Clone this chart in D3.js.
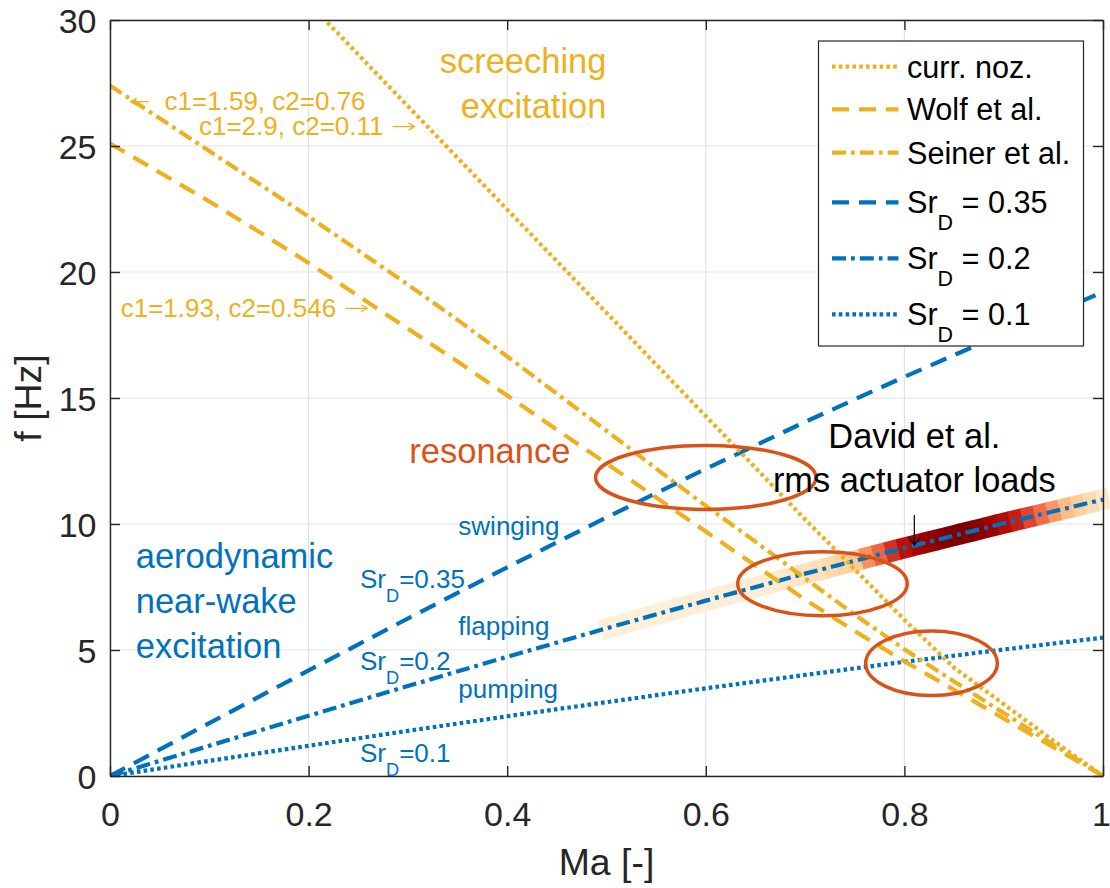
<!DOCTYPE html>
<html><head><meta charset="utf-8">
<script src="https://cdn.jsdelivr.net/npm/d3@7"></script>
<style>
body{margin:0;background:#fff;}
svg{display:block;font-family:"Liberation Sans",Arial,Helvetica,sans-serif;}
</style></head><body>
<svg id="chart" width="1110" height="888"></svg>
<script>
// ---------------- data ----------------
const maGrid = [0,0.05,0.1,0.15,0.2,0.25,0.3,0.35,0.4,0.45,0.5,0.55,0.6,0.65,0.7,0.75,0.8,0.85,0.9,0.95,1];
const seinerF = [27.4,26.1,24.8,23.5,22.2,20.85,19.5,18.1,16.65,15.17,13.7,12.2,10.72,9.3,7.84,6.4,5.03,3.75,2.5,1.25,0];
const wolfF   = [25.1,23.95,22.8,21.6,20.36,19.05,17.75,16.45,15.1,13.74,12.4,11.05,9.7,8.35,7.0,5.75,4.55,3.42,2.28,1.14,0];
const currNozMa = [0.2,0.25,0.3,0.35,0.4,0.45,0.5,0.55,0.6,0.65,0.7,0.75,0.8,0.85,0.9,0.95,1];
const currNozF  = [30.68,28.63,26.58,24.53,22.48,20.43,18.38,16.33,14.28,12.23,10.18,8.2,6.2,4.3,2.85,1.4,0];
const srMa   = [0,0.1,0.2,0.3,0.4,0.5,0.6,0.7,0.8,0.9,1];
const sr035F = [0,2.10,4.19,6.25,8.28,10.26,12.19,14.05,15.84,17.56,19.2];
const sr02F  = [0,1.20,2.39,3.57,4.73,5.86,6.96,8.03,9.05,10.03,10.97];
const sr01F  = [0,0.60,1.20,1.79,2.37,2.93,3.48,4.01,4.53,5.02,5.49];
const bandMa = [0.5,0.5125,0.525,0.5375,0.55,0.5625,0.575,0.5875,0.6,0.6125,0.625,0.6375,0.65,0.6625,0.675,0.6875,0.7,0.7125,0.725,0.7375,0.75,0.7625,0.775,0.7875,0.8,0.8125,0.825,0.8375,0.85,0.8625,0.875,0.8875,0.9,0.9125,0.925,0.9375,0.95,0.9625,0.975,0.9875,1.0];
const bandLoad = [0.06,0.06,0.06,0.06,0.065,0.065,0.07,0.07,0.07,0.075,0.075,0.08,0.085,0.09,0.1,0.12,0.14,0.17,0.21,0.25,0.3,0.5,0.62,0.75,0.84,0.9,0.94,0.98,1.0,1.0,0.97,0.92,0.86,0.8,0.7,0.6,0.48,0.36,0.28,0.2,0.12];
const ellipseMa  = [0.6,0.7175,0.8273];
const ellipseF   = [11.85,7.63,4.47];
const ellipseRMa = [0.111,0.0854,0.0663];
const ellipseRF  = [1.27,1.27,1.28];
const xTicks = [0,0.2,0.4,0.6,0.8,1];
const xTickLabels = ["0","0.2","0.4","0.6","0.8","1"];
const yTicks = [0,5,10,15,20,25,30];
const yTickLabels = ["0","5","10","15","20","25","30"];

// ---------------- setup ----------------
const YEL = "#EDB120", BLUE = "#0072BD", RED = "#D95319", AX = "#262626";
const svg = d3.select("#chart");
const L = 110, R = 1103, T = 20, B = 776;
const x = d3.scaleLinear([0,1],[L,R]);
const y = d3.scaleLinear([0,30],[B,T]);
const DOT = "3.6,3.2", DASH = "17,10", DASHDOT = "14,5,3.8,5";
const LW = 4.2;

const series = [
  {name:"curr. noz.", ma:currNozMa, f:currNozF, color:YEL, dash:DOT},
  {name:"Wolf et al.", ma:maGrid, f:wolfF, color:YEL, dash:DASH},
  {name:"Seiner et al.", ma:maGrid, f:seinerF, color:YEL, dash:DASHDOT},
  {name:"Sr", sub:"D", tail:" = 0.35", ma:srMa, f:sr035F, color:BLUE, dash:DASH},
  {name:"Sr", sub:"D", tail:" = 0.2", ma:srMa, f:sr02F, color:BLUE, dash:DASHDOT},
  {name:"Sr", sub:"D", tail:" = 0.1", ma:srMa, f:sr01F, color:BLUE, dash:DOT}
];

svg.append("defs").append("clipPath").attr("id","clip")
  .append("rect").attr("x",L).attr("y",T).attr("width",R-L).attr("height",B-T);

// grid
const grid = svg.append("g");
grid.selectAll("line.gx").data(xTicks).join("line")
  .attr("x1",d=>x(d)).attr("x2",d=>x(d)).attr("y1",T).attr("y2",B)
  .attr("stroke","#e3e3e3").attr("stroke-width",1.2);
grid.selectAll("line.gy").data(yTicks).join("line")
  .attr("y1",d=>y(d)).attr("y2",d=>y(d)).attr("x1",L).attr("x2",R)
  .attr("stroke","#e3e3e3").attr("stroke-width",1.2);

// heat band along Sr_D = 0.2
const centerF = d3.scaleLinear(srMa, sr02F);
const step = bandMa[1]-bandMa[0];
const bandG = svg.append("g");
bandMa.forEach((m,i)=>{
  const m0 = m - step/2, m1 = m + step/2 + (i<bandMa.length-1 ? 0.001 : 0);
  bandG.append("line")
    .attr("x1",x(m0)).attr("y1",y(centerF(m0)))
    .attr("x2",x(m1)).attr("y2",y(centerF(m1)))
    .attr("stroke",d3.interpolateOrRd(bandLoad[i]))
    .attr("stroke-width",21).attr("stroke-linecap","butt");
});

// lines
const line = d3.line().x(d=>x(d[0])).y(d=>y(d[1]));
const lg = svg.append("g").attr("clip-path","url(#clip)");
[4,5,3,2,1,0].forEach(k=>{
  const s = series[k];
  lg.append("path").datum(d3.zip(s.ma,s.f)).attr("d",line)
    .attr("fill","none").attr("stroke",s.color).attr("stroke-width",LW)
    .attr("stroke-dasharray",s.dash).attr("stroke-linecap","butt");
});

// ellipses
svg.append("g").selectAll("ellipse").data(ellipseMa).join("ellipse")
  .attr("cx",(d,i)=>x(d)).attr("cy",(d,i)=>y(ellipseF[i]))
  .attr("rx",(d,i)=>x(d+ellipseRMa[i])-x(d))
  .attr("ry",(d,i)=>y(ellipseF[i]-ellipseRF[i])-y(ellipseF[i]))
  .attr("fill","none").attr("stroke",RED).attr("stroke-width",3.5);

// axes
const fsTick = 34;
const axB = svg.append("g").attr("transform",`translate(0,${B})`)
  .call(d3.axisBottom(x).tickValues(xTicks).tickFormat((d,i)=>xTickLabels[i]).tickSize(-10).tickSizeOuter(0).tickPadding(26));
const axL = svg.append("g").attr("transform",`translate(${L},0)`)
  .call(d3.axisLeft(y).tickValues(yTicks).tickFormat((d,i)=>yTickLabels[i]).tickSize(-10).tickSizeOuter(0).tickPadding(13.5));
const axT = svg.append("g").attr("transform",`translate(0,${T})`)
  .call(d3.axisTop(x).tickValues(xTicks).tickFormat("").tickSize(-10).tickSizeOuter(0));
const axR = svg.append("g").attr("transform",`translate(${R},0)`)
  .call(d3.axisRight(y).tickValues(yTicks).tickFormat("").tickSize(-10).tickSizeOuter(0));
[axB,axL,axT,axR].forEach(a=>{
  a.select(".domain").attr("stroke",AX).attr("stroke-width",1.4);
  a.selectAll(".tick line").attr("stroke",AX).attr("stroke-width",1.4);
  a.selectAll(".tick text").attr("fill",AX).attr("font-size",fsTick).attr("font-family","Liberation Sans, Arial, sans-serif");
});
axL.selectAll(".tick text").attr("dy","0.37em");
axB.selectAll(".tick text").filter((d,i)=>i===xTicks.length-1).attr("dx",-2);

// axis labels
svg.append("text").attr("x",(L+R)/2).attr("y",875).attr("text-anchor","middle")
  .attr("font-size",37.4).attr("fill",AX).text("Ma [-]");
svg.append("text").attr("transform",`translate(41,${(T+B)/2}) rotate(-90)`).attr("text-anchor","middle")
  .attr("font-size",37.4).attr("fill",AX).text("f [Hz]");

// annotations (positions in data units)
function txt(ma,f,parts,opts){
  const t = svg.append("text").attr("x",x(ma)).attr("y",y(f))
    .attr("font-size",opts.size).attr("fill",opts.color)
    .attr("text-anchor",opts.anchor||"start");
  if(typeof parts === "string") parts = [parts];
  parts.forEach(p=>{
    if(typeof p === "string") t.append("tspan").text(p);
    else if(p.sub){
      t.append("tspan").attr("font-size",opts.size*0.7).attr("dy",opts.size*0.54).text(p.sub);
      t.append("tspan").attr("dy",-opts.size*0.54).text(p.tail);
    }
  });
  return t;
}
// thin TeX-like arrow drawn as a path
function arrow(x0,x1,yy,color){
  const dir = Math.sign(x1-x0);
  svg.append("path")
    .attr("d",`M${x0},${yy}L${x1},${yy}M${x1-dir*6},${yy-3.5}L${x1},${yy}L${x1-dir*6},${yy+3.5}`)
    .attr("fill","none").attr("stroke",color).attr("stroke-width",1.3);
}
txt(0.5,27.88,"screeching",{size:34.5,color:YEL,anchor:"end"});
txt(0.5,26.1,"excitation",{size:34.5,color:YEL,anchor:"end"});
// label with arrow in front
const tA = txt(0.055,26.43,"c1=1.59, c2=0.76",{size:26,color:YEL});
arrow(x(0.055)-16,x(0.055)-34,y(26.43)-8.3,YEL);
const tB = txt(0.0896,25.44,"c1=2.9, c2=0.11",{size:26,color:YEL});
{ const e = x(0.0896)+tB.node().getComputedTextLength()+9; arrow(e,e+22,y(25.44)-8.3,YEL); }
const tC = txt(0.0108,18.23,"c1=1.93, c2=0.546",{size:26,color:YEL});
{ const e = x(0.0108)+tC.node().getComputedTextLength()+9; arrow(e,e+22,y(18.23)-8.3,YEL); }
txt(0.3014,12.43,"resonance",{size:34.5,color:RED});
txt(0.3508,9.56,"swinging",{size:26,color:BLUE});
txt(0.3508,5.6,"flapping",{size:26,color:BLUE});
txt(0.3508,3.08,"pumping",{size:26,color:BLUE});
txt(0.2518,7.45,["Sr",{sub:"D",tail:"=0.35"}],{size:26,color:BLUE});
txt(0.2518,4.21,["Sr",{sub:"D",tail:"=0.2"}],{size:26,color:BLUE});
txt(0.2518,0.57,["Sr",{sub:"D",tail:"=0.1"}],{size:26,color:BLUE});
txt(0.0259,8.24,"aerodynamic",{size:34.5,color:BLUE});
txt(0.0259,6.46,"near-wake",{size:34.5,color:BLUE});
txt(0.0259,4.67,"excitation",{size:34.5,color:BLUE});
txt(0.81,13.0,"David et al.",{size:34.4,color:"#000",anchor:"middle"});
txt(0.81,11.28,"rms actuator loads",{size:34.4,color:"#000",anchor:"middle"});
// arrow to the band
const ax0 = x(0.81), ay0 = y(10.36), ay1 = y(9.17);
svg.append("line").attr("x1",ax0).attr("x2",ax0).attr("y1",ay0).attr("y2",ay1)
  .attr("stroke","#000").attr("stroke-width",1.2);
svg.append("path").attr("d",`M${ax0-6},${ay1-8}L${ax0},${ay1}L${ax0+6},${ay1-8}`)
  .attr("fill","none").attr("stroke","#000").attr("stroke-width",1.2);

// legend
const leg = svg.append("g");
leg.append("rect").attr("x",818.5).attr("y",41).attr("width",265).attr("height",305)
  .attr("fill","#fff").attr("stroke","#262626").attr("stroke-width",1.2);
const rowY = [66.7,109.3,152.7,202.3,258.3,314.3];
const fsLeg = 30.6;
series.forEach((s,i)=>{
  leg.append("line").attr("x1",832).attr("x2",898.5).attr("y1",rowY[i]).attr("y2",rowY[i])
    .attr("stroke",s.color).attr("stroke-width",LW).attr("stroke-dasharray",s.dash);
  const t = leg.append("text").attr("x",907).attr("y",rowY[i]+11).attr("font-size",fsLeg).attr("fill","#000");
  if(s.sub){
    t.append("tspan").text(s.name);
    t.append("tspan").attr("font-size",fsLeg*0.7).attr("dy",fsLeg*0.54).text(s.sub);
    t.append("tspan").attr("dy",-fsLeg*0.54).text(s.tail);
  } else t.text(s.name);
});
</script>
</body></html>
